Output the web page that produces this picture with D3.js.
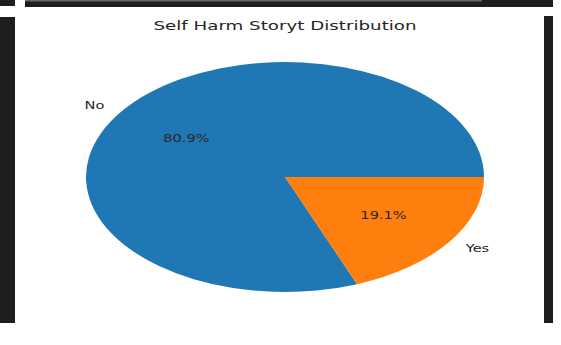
<html>
<head>
    <title>Self Harm Storyt Distribution</title>
    <script src="https://d3js.org/d3.v7.min.js"></script>
    <style>
        body { margin: 0; background: #fff; }
        svg { font-family: "DejaVu Sans", sans-serif; }
        .frame { fill: #1e1e1e; }
        .title { font-size: 12.5px; fill: #262626; }
        .label { font-size: 10px; fill: #262626; }
    </style>
</head>
<body>
<div id="chart"></div>
<script>
    // data
    var labels = ["No", "Yes"];
    var values = [80.9, 19.1];
    var colors = ["#1f77b4", "#ff7f0e"];

    var width = 561, height = 345;
    var cx = 285, cy = 177, rx = 199, ry = 115;
    var stretch = 1.46; // picture is stretched sideways

    var svg = d3.select("#chart").append("svg")
        .attr("width", width)
        .attr("height", height);

    /* dark window frame around the plot */
    svg.append("rect").attr("class", "frame").attr("x", 0).attr("y", 0).attr("width", 15).attr("height", 6);
    svg.append("rect").attr("class", "frame").attr("x", 25).attr("y", 0).attr("width", 528).attr("height", 7);
    svg.append("rect").attr("x", 25).attr("y", 0).attr("width", 457).attr("height", 1.5).attr("fill", "#666");
    svg.append("rect").attr("class", "frame").attr("x", 0).attr("y", 17).attr("width", 15).attr("height", 306);
    svg.append("rect").attr("class", "frame").attr("x", 544).attr("y", 16).attr("width", 9).attr("height", 307);

    /* scales: unit circle -> stretched ellipse */
    var x = d3.scaleLinear().domain([-1, 1]).range([cx - rx, cx + rx]);
    var y = d3.scaleLinear().domain([-1, 1]).range([cy - ry, cy + ry]);

    // matplotlib style: start at 3 o'clock, go counter-clockwise
    var pie = d3.pie().sort(null)
        .startAngle(Math.PI / 2)
        .endAngle(Math.PI / 2 - 2 * Math.PI);
    var arcs = pie(values);

    var arc = d3.arc().innerRadius(0).outerRadius(100);

    svg.append("g")
        .attr("transform", `translate(${cx},${cy}) scale(${rx / 100},${ry / 100})`)
        .selectAll("path")
        .data(arcs).enter()
        .append("path")
        .attr("d", arc)
        .attr("fill", (d, i) => colors[i]);

    function pos(d, k) {
        var a = (d.startAngle + d.endAngle) / 2;
        return [x(k * Math.sin(a)), y(-k * Math.cos(a))];
    }

    // category labels
    svg.selectAll(".cat")
        .data(arcs).enter()
        .append("text")
        .attr("class", "label")
        .attr("text-anchor", d => Math.sin((d.startAngle + d.endAngle) / 2) < 0 ? "end" : "start")
        .attr("dy", "0.35em")
        .attr("transform", d => { var p = pos(d, 1.1); return `translate(${p[0]},${p[1]}) scale(${stretch},1)`; })
        .text((d, i) => labels[i]);

    // percentages
    svg.selectAll(".pct")
        .data(arcs).enter()
        .append("text")
        .attr("class", "label")
        .attr("text-anchor", "middle")
        .attr("dy", "0.35em")
        .attr("transform", d => { var p = pos(d, 0.6); return `translate(${p[0]},${p[1]}) scale(${stretch},1)`; })
        .text(d => d.data.toFixed(1) + "%");

    svg.append("text")
        .attr("class", "title")
        .attr("text-anchor", "middle")
        .attr("transform", `translate(${cx},30) scale(${stretch},1)`)
        .text("Self Harm Storyt Distribution");
</script>
</body>
</html>
